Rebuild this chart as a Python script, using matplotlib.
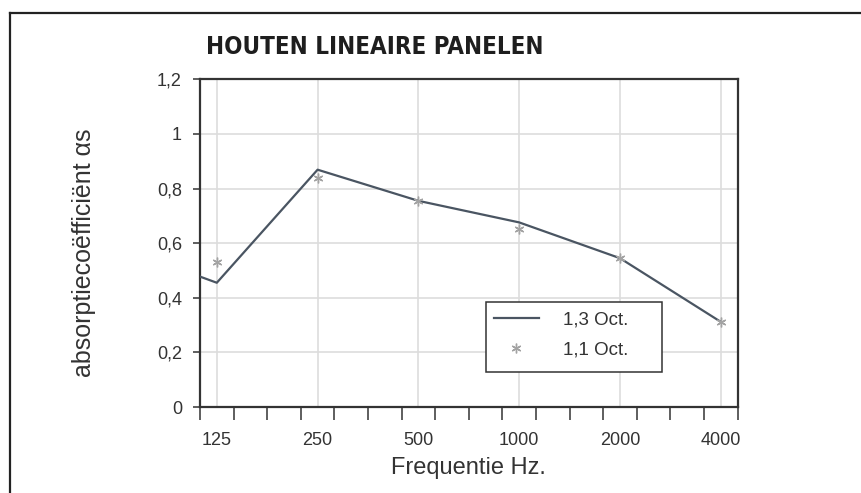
import matplotlib.pyplot as plt
from matplotlib.lines import Line2D
from matplotlib.patches import Rectangle

# third-octave bands on the x axis (100 Hz lies just outside the plot)
bands = [100, 125, 160, 200, 250, 315, 400, 500, 630, 800,
         1000, 1250, 1600, 2000, 2500, 3150, 4000]
labelled = [125, 250, 500, 1000, 2000, 4000]

line_freqs = [100, 125, 250, 500, 1000, 2000, 4000]
line_vals = [0.50, 0.455, 0.869, 0.755, 0.676, 0.545, 0.312]

star_freqs = [125, 250, 500, 1000, 2000, 4000]
star_vals = [0.53, 0.838, 0.755, 0.651, 0.545, 0.312]

line_color = '#4a5562'
star_color = '#a3a3a3'
text_color = '#333333'


def band_pos(f):
    return bands.index(f) - 1


plt.rcParams['font.family'] = ['Liberation Sans', 'DejaVu Sans']

W, H = 861, 493
fig = plt.figure(figsize=(W / 100, H / 100), dpi=100)
ax = fig.add_axes([200 / W, 1 - 407 / H, 537.5 / W, 327.7 / H])

# outer frame (only left and top visible)
fig.add_artist(Line2D([9.5 / W, 9.5 / W], [1 - 12.5 / H, 0], transform=fig.transFigure,
                      color='#222222', lw=1.6))
fig.add_artist(Line2D([9.5 / W, 1], [1 - 12.5 / H, 1 - 12.5 / H], transform=fig.transFigure,
                      color='#222222', lw=1.6))

ax.plot([band_pos(f) for f in line_freqs], line_vals, color=line_color, lw=1.6,
        label='1,3 Oct.', zorder=3)
ax.plot([band_pos(f) for f in star_freqs], star_vals, ls='none', marker=(6, 2, 0),
        markersize=7, markeredgewidth=1.0, color=star_color, label='1,1 Oct.', zorder=4)

ax.set_xlim(-0.5, 15.5)
ax.set_ylim(0, 1.2)

# tick marks on band boundaries, labels on band centres
ax.set_xticks([i - 0.5 for i in range(17)])
ax.set_xticklabels([])
ax.set_xticks([band_pos(f) for f in labelled], minor=True)
ax.set_xticklabels([str(f) for f in labelled], minor=True)
ax.tick_params(axis='x', which='major', length=9, width=1.1, color=text_color, direction='out')
ax.tick_params(axis='x', which='minor', length=0, pad=18, labelsize=13, labelcolor=text_color)

yt = [0, 0.2, 0.4, 0.6, 0.8, 1.0, 1.2]
ax.set_yticks(yt)
ax.set_yticklabels(['0', '0,2', '0,4', '0,6', '0,8', '1', '1,2'])
ax.tick_params(axis='y', length=5, width=1.1, color=text_color, pad=8,
               labelsize=13, labelcolor=text_color)

for y in yt[1:-1]:
    ax.axhline(y, color='#dddddd', lw=1.2, zorder=1)
for f in labelled:
    ax.axvline(band_pos(f), color='#dddddd', lw=1.2, zorder=1)

for s in ax.spines.values():
    s.set_color('#333333')
    s.set_linewidth(1.6)

ax.set_xlabel('Frequentie Hz.', fontsize=17, color=text_color, labelpad=6)
ax.set_ylabel('absorptiecoëfficiënt αs', fontsize=18, color=text_color)
ax.yaxis.set_label_coords(-104 / 537.5, (407 - 253) / 327.7)

fig.text(206 / W, 1 - 47 / H, 'HOUTEN LINEAIRE PANELEN', fontsize=17.3,
         fontweight='bold', fontstretch='condensed', family='DejaVu Sans',
         color='#1e1e1e', va='center', ha='left')

# legend box drawn separately so its size matches the reference
ax.add_patch(Rectangle((286 / 537.5, (407 - 372) / 327.7), 176 / 537.5, 70 / 327.7,
                       transform=ax.transAxes, facecolor='white', edgecolor='#333333',
                       lw=1.1, zorder=5))
leg = ax.legend(loc='upper left', bbox_to_anchor=(290 / 537.5, (407 - 308) / 327.7),
                fontsize=13.5, frameon=False, handlelength=2.4, handletextpad=1.3,
                borderpad=0.2, labelspacing=0.66, borderaxespad=0)
leg.set_zorder(6)
for t in leg.get_texts():
    t.set_color(text_color)

fig.savefig('out.png', dpi=100)
